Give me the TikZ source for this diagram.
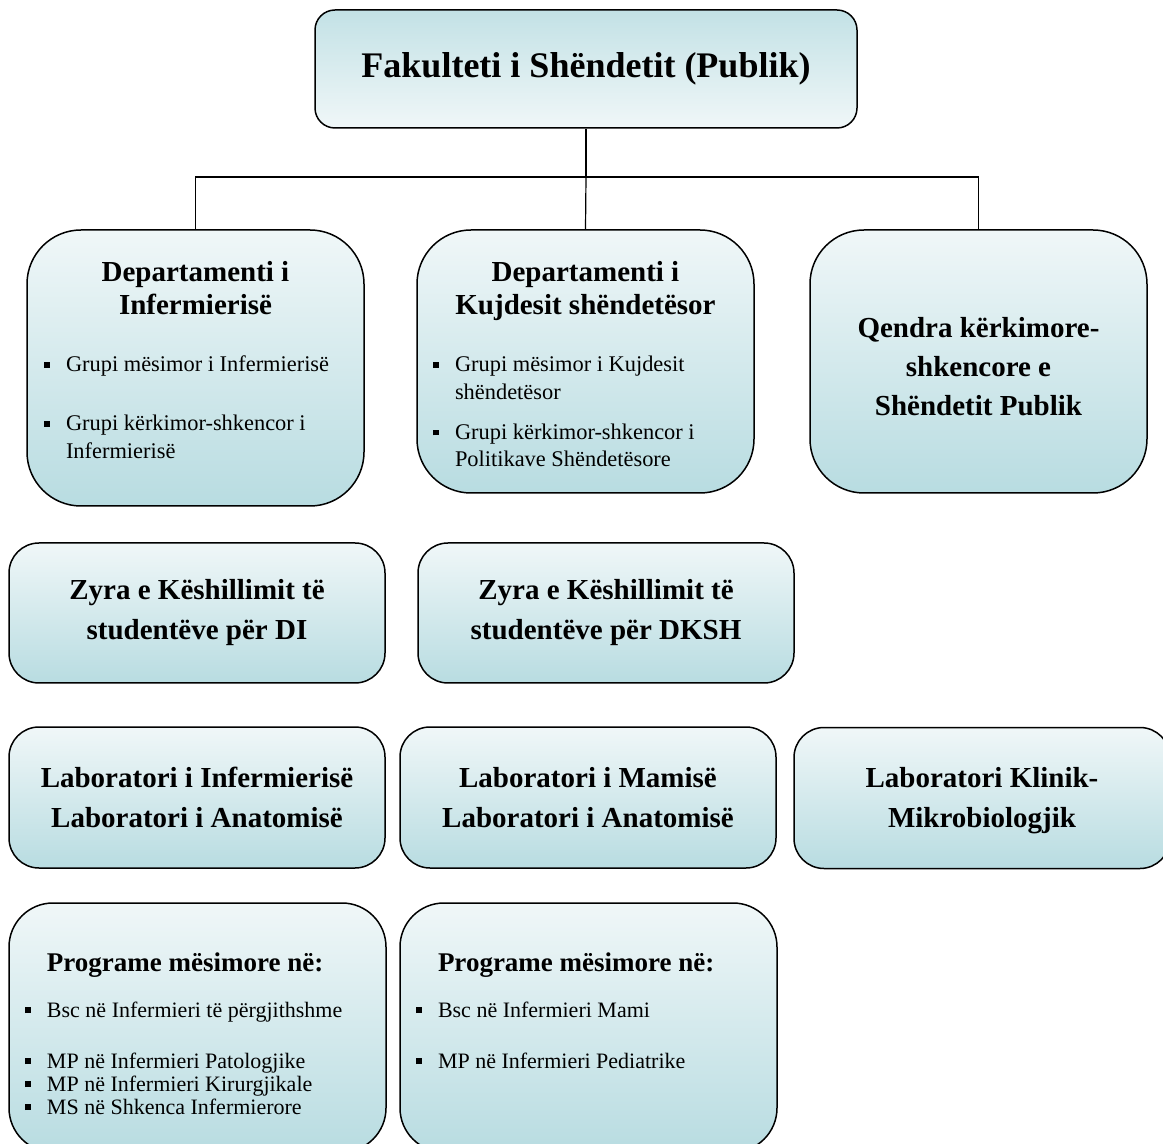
\documentclass[tikz,border=0pt]{standalone}
\usepackage{fontspec}
\setmainfont{Liberation Serif}
\usetikzlibrary{positioning}

\definecolor{paleteal}{HTML}{F0F7F8}
\definecolor{softteal}{HTML}{B8DCE1}

\newcommand{\sqmark}{\rule[2pt]{2.8pt}{2.8pt}}
\newcommand{\listitem}[2][0pt]{\par\vspace*{#1}\hangindent=11pt\hangafter=1\noindent\makebox[11pt][l]{\sqmark}#2}

\tikzset{
	orgbox/.style={draw, line width=0.75pt, inner sep=0pt, top color=paleteal, bottom color=softteal, align=center},
	deptbox/.style={orgbox, rounded corners=27pt, minimum width=168.5pt, minimum height=131.5pt},
	officebox/.style={orgbox, rounded corners=15pt, minimum width=188pt, minimum height=70.5pt, font=\fontsize{14.5}{20}\selectfont\bfseries},
	progbox/.style={orgbox, rounded corners=22pt, minimum width=188.5pt, minimum height=124.5pt},
	link/.style={line width=0.6pt}
}

\begin{document}
\begin{tikzpicture}[x=1pt, y=-1pt]
	\useasboundingbox (0,0) rectangle (581.5,572);

	\node[orgbox, rounded corners=10pt, top color=softteal!85!white, bottom color=paleteal, minimum width=271pt, minimum height=59pt, font=\fontsize{18}{22}\selectfont\bfseries] (fak) at (293,34.5) {Fakulteti i Shëndetit (Publik)};

	\node[deptbox, minimum height=138pt] (d1) at (97.75,184) {\parbox[c][138pt][t]{168.5pt}{\centering\fontsize{14.5}{16.5}\selectfont\bfseries
		\rule{0pt}{26pt}Departamenti i\\Infermierisë\par
		\raggedright\leftskip=8.5pt\fontsize{11.2}{13.75}\selectfont\mdseries
		\listitem[14.75pt]{Grupi mësimor i Infermierisë}
		\listitem[15.75pt]{Grupi kërkimor-shkencor i\newline Infermierisë}\par}};
	\node[deptbox] (d2) at (292.75,180.75) {\parbox[c][131.5pt][t]{168.5pt}{\centering\fontsize{14.5}{16.5}\selectfont\bfseries
		\rule{0pt}{26pt}Departamenti i\\Kujdesit shëndetësor\par
		\raggedright\leftskip=8pt\fontsize{11.2}{13.75}\selectfont\mdseries
		\listitem[14.75pt]{Grupi mësimor i Kujdesit\newline shëndetësor}
		\listitem[6.25pt]{Grupi kërkimor-shkencor i\newline Politikave Shëndetësore}\par}};
	\node[deptbox, font=\fontsize{14.5}{19.5}\selectfont\bfseries] (qen) at (489.25,180.75) {\parbox[c][131.5pt][t]{168.5pt}{\centering
		\rule{0pt}{54pt}Qendra kërkimore-\\shkencore e\\Shëndetit Publik}};

	\coordinate (bus) at (293,88.5);
	\draw[link] (fak.south) -- (bus);
	\draw[link] (bus) -| (d1.north);
	\draw[link] (bus) -- (d2.north);
	\draw[link] (bus) -| (qen.north);

	\node[officebox, minimum height=70pt] (zy1) at (98.5,306.5) {Zyra e Këshillimit të\\studentëve për DI};
	\node[officebox, minimum height=70pt] (zy2) at (303,306.5) {Zyra e Këshillimit të\\studentëve për DKSH};

	\node[officebox] (lab1) at (98.5,398.75) {Laboratori i Infermierisë\\Laboratori i Anatomisë};
	\node[officebox] (lab2) at (294,398.75) {Laboratori i Mamisë\\Laboratori i Anatomisë};
	\node[officebox] (lab3) at (491,399) {\parbox[c][70.5pt][t]{188pt}{\centering
		\rule{0pt}{30pt}Laboratori Klinik-\\Mikrobiologjik}};

	\node[progbox] (p1) at (98.75,513.75) {\parbox[c][124.5pt][t]{188.5pt}{\raggedright\leftskip=19pt\fontsize{13.5}{16}\selectfont\bfseries
		\rule{0pt}{34pt}Programe mësimore në:\par
		\leftskip=8pt\fontsize{11}{11.5}\selectfont\mdseries
		\listitem[11.5pt]{Bsc në Infermieri të përgjithshme}
		\listitem[14pt]{MP në Infermieri Patologjike}
		\listitem{MP në Infermieri Kirurgjikale}
		\listitem{MS në Shkenca Infermierore}\par}};
	\node[progbox] (p2) at (294.25,513.75) {\parbox[c][124.5pt][t]{188.5pt}{\raggedright\leftskip=19pt\fontsize{13.5}{16}\selectfont\bfseries
		\rule{0pt}{34pt}Programe mësimore në:\par
		\leftskip=8pt\fontsize{11}{11.5}\selectfont\mdseries
		\listitem[11.5pt]{Bsc në Infermieri Mami}
		\listitem[14pt]{MP në Infermieri Pediatrike}\par}};
\end{tikzpicture}
\end{document}
